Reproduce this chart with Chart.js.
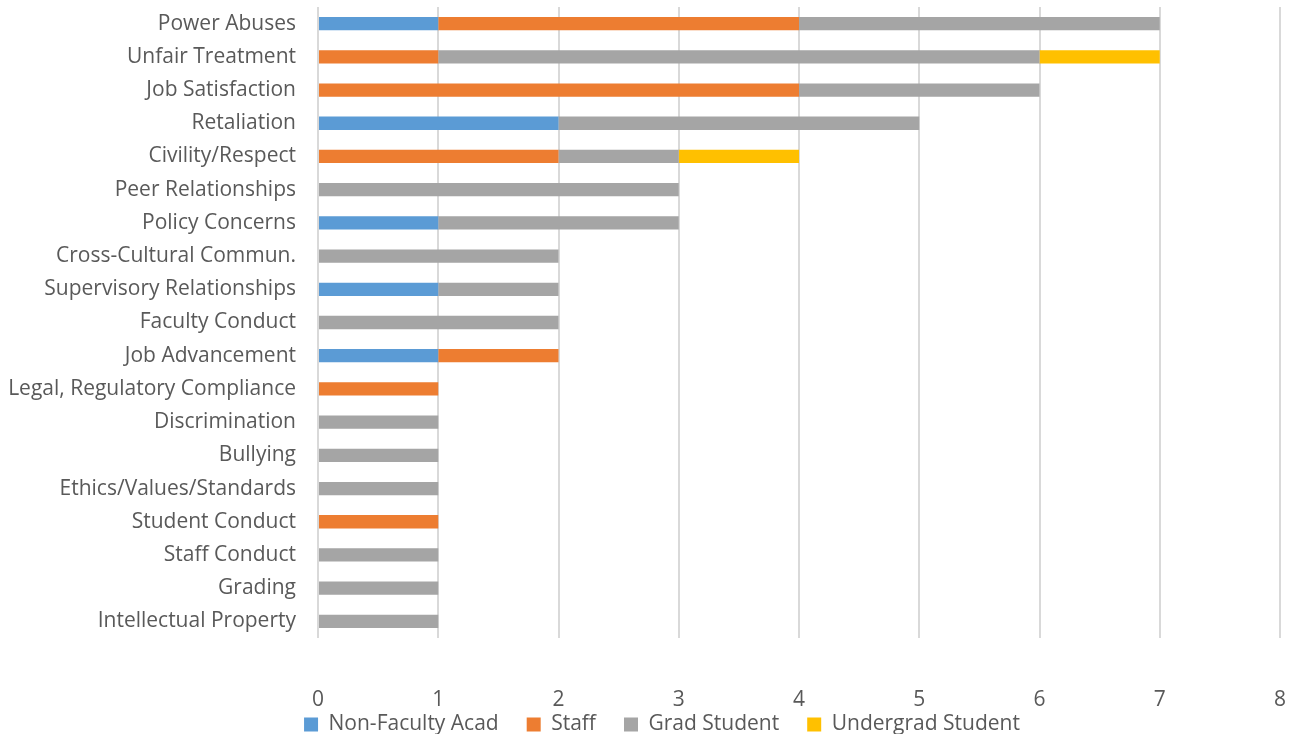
<!DOCTYPE html>
<html>
<head>
<meta charset="utf-8">
<script src="https://cdn.jsdelivr.net/npm/chart.js@4"></script>
<style>
  html, body { margin: 0; padding: 0; background: #fff; }
  #wrap { width: 1291px; height: 734px; }
</style>
</head>
<body>
<div id="wrap"><canvas id="chart"></canvas></div>
<script>
const categories = [
  "Power Abuses", "Unfair Treatment", "Job Satisfaction", "Retaliation",
  "Civility/Respect", "Peer Relationships", "Policy Concerns",
  "Cross-Cultural Commun.", "Supervisory Relationships", "Faculty Conduct",
  "Job Advancement", "Legal, Regulatory Compliance", "Discrimination",
  "Bullying", "Ethics/Values/Standards", "Student Conduct", "Staff Conduct",
  "Grading", "Intellectual Property"
];
const nonFacultyAcad = [1, 0, 0, 2, 0, 0, 1, 0, 1, 0, 1, 0, 0, 0, 0, 0, 0, 0, 0];
const staff          = [3, 1, 4, 0, 2, 0, 0, 0, 0, 0, 1, 1, 0, 0, 0, 1, 0, 0, 0];
const gradStudent    = [3, 5, 2, 3, 1, 3, 2, 2, 1, 2, 0, 0, 1, 1, 1, 0, 1, 1, 1];
const undergrad      = [0, 1, 0, 0, 1, 0, 0, 0, 0, 0, 0, 0, 0, 0, 0, 0, 0, 0, 0];
const xTicks = [0, 1, 2, 3, 4, 5, 6, 7, 8];

const textColor = "#595959";
const font = { family: "'Open Sans', sans-serif", size: 21 };

function series(label, data, color) {
  return {
    label: label,
    data: data,
    backgroundColor: color,
    borderWidth: 0,
    categoryPercentage: 1,
    barPercentage: 0.4
  };
}

// drop the extra edge padding Chart.js reserves for tick labels
function noEdgePadding(s) {
  s.paddingTop = 0;
  s.paddingBottom = 0;
  s.paddingLeft = 0;
  s.paddingRight = 0;
}

// let the x tick labels hang below the axis box, nudge the legend right
const axisOverhang = {
  id: "axisOverhang",
  afterLayout(chart) {
    chart.scales.x.bottom = chart.height;
    chart.legend.left += 22;
    chart.legend.right += 22;
  }
};

new Chart(document.getElementById("chart"), {
  type: "bar",
  data: {
    labels: categories,
    datasets: [
      series("Non-Faculty Acad", nonFacultyAcad, "#5B9BD5"),
      series("Staff", staff, "#ED7D31"),
      series("Grad Student", gradStudent, "#A5A5A5"),
      series("Undergrad Student", undergrad, "#FFC000")
    ]
  },
  plugins: [axisOverhang],
  options: {
    indexAxis: "y",
    responsive: true,
    maintainAspectRatio: false,
    animation: false,
    layout: { padding: { top: 7, right: 11, left: 0, bottom: -11 } },
    plugins: {
      tooltip: { enabled: false },
      legend: {
        position: "bottom",
        labels: {
          color: textColor,
          font: font,
          boxWidth: 14,
          boxHeight: 14,
          padding: 28
        }
      }
    },
    scales: {
      x: {
        stacked: true,
        min: 0,
        max: 8,
        afterBuildTicks: s => { s.ticks = xTicks.map(v => ({ value: v })); },
        afterFit: s => { noEdgePadding(s); s.height = 48; },
        grid: { color: "#d9d9d9", lineWidth: 2, drawTicks: false },
        border: { display: false },
        ticks: { color: textColor, font: font, padding: 49 }
      },
      y: {
        stacked: true,
        afterFit: s => { noEdgePadding(s); s.width = 318; },
        grid: { display: false, drawTicks: false },
        border: { display: false },
        ticks: { color: textColor, font: font, padding: 22, autoSkip: false }
      }
    }
  }
});
</script>
</body>
</html>
